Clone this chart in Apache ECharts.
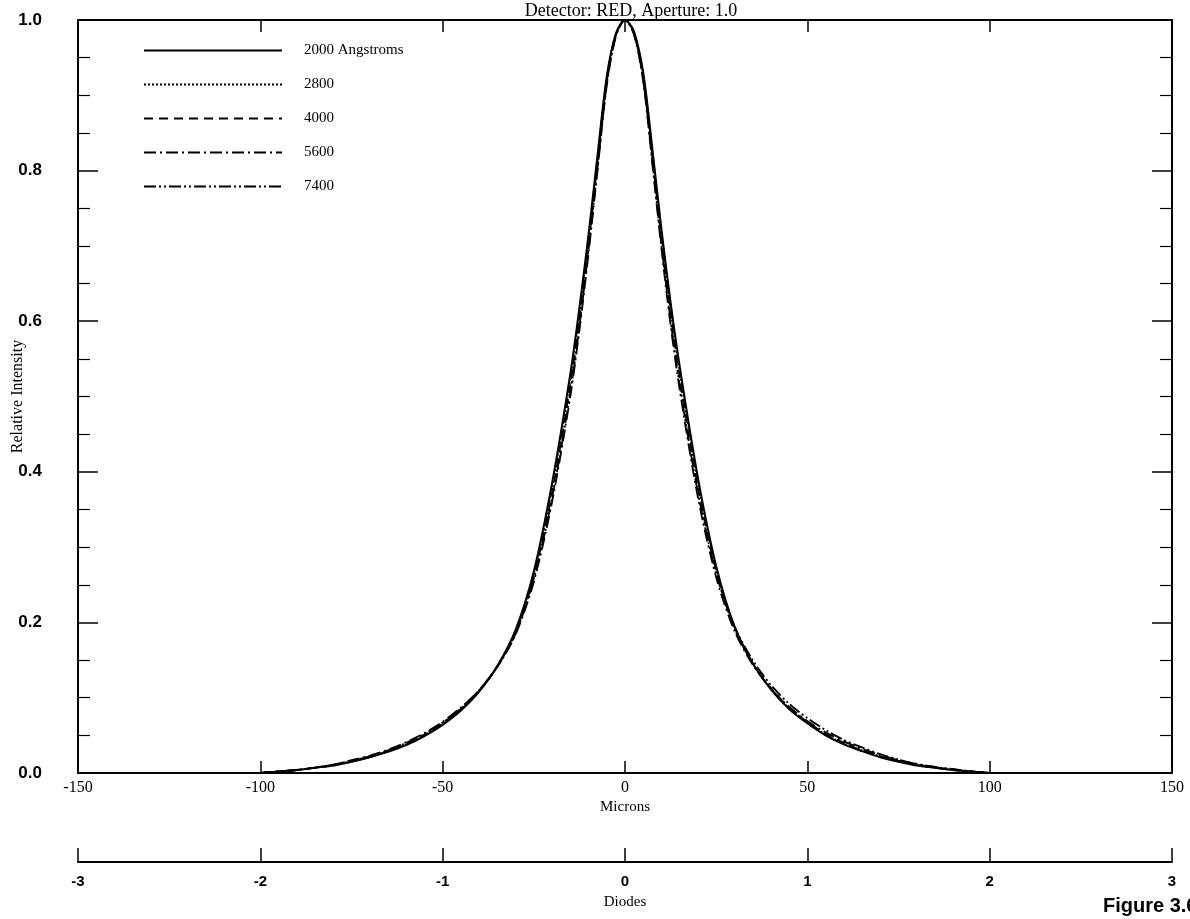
<!DOCTYPE html>
<html>
<head>
<meta charset="utf-8">
<script src="https://cdn.jsdelivr.net/npm/echarts@6/dist/echarts.min.js"></script>
<style>
html,body{margin:0;padding:0;background:#fff;}
#chart{width:1190px;height:919px;}
</style>
</head>
<body>
<div id="chart"></div>
<script>
// ---- data ----
const micronsX = [-100,-95,-90,-85,-80,-75,-70,-65,-60,-55,-50,-45,-40,-35,-30,-25,-20,-15,-12.5,-10,-7.5,-5,-2.5,0,
                  2.5,5,7.5,10,12.5,15,20,25,30,35,40,45,50,55,60,65,70,75,80,85,90,95,100];
const seriesNames = ['2000 Angstroms','2800','4000','5600','7400'];
const s2000 = [0.000,0.002,0.004,0.007,0.010,0.015,0.021,0.028,0.037,0.049,0.064,0.083,0.108,0.142,0.190,0.268,0.385,0.530,0.618,0.715,0.822,0.925,0.982,1.000,
               0.984,0.930,0.829,0.722,0.625,0.540,0.392,0.275,0.195,0.146,0.111,0.085,0.066,0.050,0.038,0.029,0.021,0.015,0.010,0.007,0.004,0.002,0.000];
const s2800 = [0.000,0.002,0.004,0.007,0.010,0.015,0.021,0.029,0.038,0.050,0.065,0.084,0.109,0.142,0.189,0.265,0.379,0.523,0.611,0.709,0.817,0.922,0.981,1.000,
               0.983,0.927,0.824,0.716,0.618,0.533,0.386,0.272,0.194,0.146,0.112,0.086,0.067,0.051,0.039,0.030,0.022,0.016,0.011,0.007,0.004,0.002,0.000];
const s4000 = [0.000,0.002,0.004,0.007,0.011,0.016,0.022,0.029,0.039,0.051,0.066,0.085,0.109,0.141,0.187,0.261,0.372,0.515,0.603,0.702,0.812,0.919,0.980,1.000,
               0.982,0.924,0.819,0.709,0.610,0.525,0.379,0.268,0.192,0.146,0.113,0.087,0.068,0.052,0.040,0.030,0.022,0.016,0.011,0.007,0.004,0.002,0.000];
const s5600 = [0.000,0.002,0.004,0.007,0.011,0.017,0.023,0.031,0.041,0.053,0.068,0.087,0.110,0.141,0.184,0.254,0.360,0.500,0.588,0.690,0.802,0.913,0.978,1.000,
               0.980,0.918,0.809,0.696,0.595,0.509,0.366,0.260,0.189,0.144,0.112,0.088,0.069,0.054,0.042,0.032,0.024,0.017,0.012,0.008,0.005,0.002,0.000];
const s7400 = [0.000,0.002,0.004,0.007,0.011,0.016,0.022,0.030,0.040,0.052,0.067,0.086,0.110,0.142,0.185,0.258,0.365,0.505,0.593,0.695,0.805,0.915,0.979,1.000,
               0.981,0.920,0.812,0.701,0.601,0.515,0.372,0.265,0.195,0.150,0.117,0.092,0.073,0.057,0.044,0.034,0.025,0.018,0.012,0.008,0.005,0.002,0.000];
const micronTicks = [-150,-100,-50,0,50,100,150];
const diodeTicks = [-3,-2,-1,0,1,2,3];
const intensityTicks = [0,0.2,0.4,0.6,0.8,1.0];

const allSeries = [s2000,s2800,s4000,s5600,s7400];
const dashTypes = ['solid',[2,2],[9,6],[12,4,2,4],[12,3,2,3,2,3]];
const lineWidths = [2,1.9,1.8,1.8,1.8];

const serif = '"Liberation Serif", "Times New Roman", serif';
const sansB = '"Liberation Sans", Arial, sans-serif';

const chart = echarts.init(document.getElementById('chart'), null, {renderer:'canvas'});
const G = {left:78, right:18, top:20, bottom:146};

const option = {
  backgroundColor:'#fff',
  animation:false,
  title:{
    text:'Detector: RED, Aperture: 1.0',
    left:626, top:-3, textAlign:'center',
    textStyle:{fontFamily:serif, fontSize:18, fontWeight:'normal', color:'#000'}
  },
  legend:{
    orient:'vertical', left:138, top:38, itemWidth:138, itemHeight:14, itemGap:19,
    data:seriesNames,
    itemStyle:{opacity:0},
    textStyle:{fontFamily:serif, fontSize:15, color:'#000', padding:[0,0,0,17]}
  },
  grid:[
    {left:G.left, right:G.right, top:G.top, bottom:G.bottom, show:false, outerBoundsMode:'none', containLabel:false},
    {left:G.left, right:G.right, top:861, height:1, show:false, outerBoundsMode:'none', containLabel:false}
  ],
  xAxis:[
    {type:'value', gridIndex:0, position:'bottom', min:-150, max:150, interval:50,
     name:'Microns', nameLocation:'middle', nameGap:27, nameMoveOverlap:false,
     nameTextStyle:{fontFamily:serif, fontSize:15, color:'#000'},
     axisLine:{show:true, onZero:false, lineStyle:{color:'#000', width:2}},
     axisTick:{show:true, inside:true, length:12, lineStyle:{color:'#000', width:1.5}},
     axisLabel:{fontFamily:serif, fontSize:16, color:'#000', margin:7,
       formatter:function(v){return micronTicks.indexOf(v)>=0?String(v):'';}},
     splitLine:{show:false}},
    {type:'value', gridIndex:0, position:'top', min:-150, max:150, interval:50,
     axisLine:{show:true, onZero:false, lineStyle:{color:'#000', width:2}},
     axisTick:{show:true, inside:true, length:12, lineStyle:{color:'#000', width:1.5}},
     axisLabel:{show:false}, splitLine:{show:false}},
    {type:'value', gridIndex:1, position:'bottom', min:-3, max:3, interval:1,
     name:'Diodes', nameLocation:'middle', nameGap:33, nameMoveOverlap:false,
     nameTextStyle:{fontFamily:serif, fontSize:15, color:'#000'},
     axisLine:{show:true, onZero:false, lineStyle:{color:'#000', width:2}},
     axisTick:{show:true, inside:true, length:14, lineStyle:{color:'#000', width:1.5}},
     axisLabel:{fontFamily:sansB, fontWeight:'bold', fontSize:15, color:'#000', margin:12,
       formatter:function(v){return diodeTicks.indexOf(v)>=0?String(v):'';}},
     splitLine:{show:false}}
  ],
  yAxis:[
    {type:'value', gridIndex:0, position:'left', min:0, max:1, interval:0.2,
     name:'Relative Intensity', nameLocation:'middle', nameGap:52, nameRotate:90, nameMoveOverlap:false,
     nameTextStyle:{fontFamily:serif, fontSize:16, color:'#000'},
     axisLine:{show:true, onZero:false, lineStyle:{color:'#000', width:2}},
     axisTick:{show:true, inside:true, length:20, lineStyle:{color:'#000', width:1.5}},
     minorTick:{show:true, splitNumber:4, length:12, lineStyle:{color:'#000', width:1.2}},
     axisLabel:{fontFamily:sansB, fontWeight:'bold', fontSize:17, color:'#000', margin:36,
       formatter:function(v){return intensityTicks.indexOf(Math.round(v*10)/10)>=0?v.toFixed(1):'';}},
     splitLine:{show:false}},
    {type:'value', gridIndex:0, position:'right', min:0, max:1, interval:0.2,
     axisLine:{show:true, onZero:false, lineStyle:{color:'#000', width:2}},
     axisTick:{show:true, inside:true, length:20, lineStyle:{color:'#000', width:1.5}},
     minorTick:{show:true, splitNumber:4, length:12, lineStyle:{color:'#000', width:1.2}},
     axisLabel:{show:false}, splitLine:{show:false}},
    {type:'value', gridIndex:1, min:0, max:1, show:false}
  ],
  series: allSeries.map(function(arr,i){
    return {
      name:seriesNames[i], type:'line', xAxisIndex:0, yAxisIndex:0,
      data: micronsX.map(function(x,j){return [x, arr[j]];}),
      smooth:0.3, symbol:'none',
      lineStyle:{color:'#000', width:lineWidths[i], type:dashTypes[i]},
      itemStyle:{color:'#000'},
      z:10-i
    };
  }),
  graphic:[
    {type:'text', left:1103, top:896,
     style:{text:'Figure 3.6', font:'bold 20px "Liberation Sans", Arial, sans-serif', fill:'#000'}}
  ]
};
chart.setOption(option);
</script>
</body>
</html>
